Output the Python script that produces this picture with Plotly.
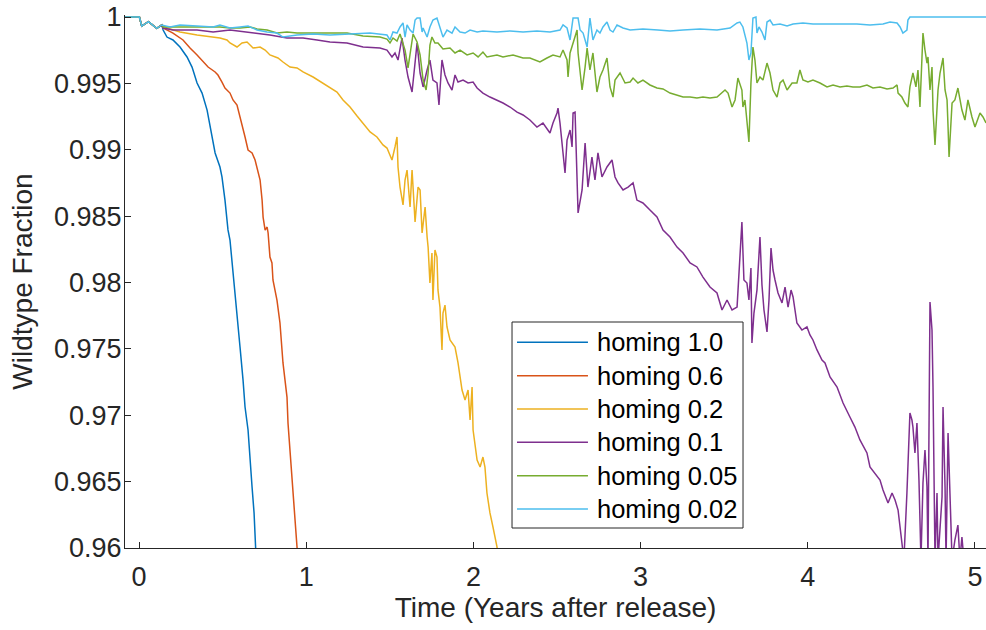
import plotly.graph_objects as go

# ---- series labels and colours -------------------------------------------
labels = ["homing 1.0", "homing 0.6", "homing 0.2", "homing 0.1", "homing 0.05", "homing 0.02"]
colors = ["#0072BD", "#D95319", "#EDB120", "#7E2F8E", "#77AC30", "#4DBEEE"]

# ---- axis ticks ------------------------------------------------------------
x_ticks = [0, 1, 2, 3, 4, 5]
x_tick_text = ["0", "1", "2", "3", "4", "5"]
y_ticks = [0.96, 0.965, 0.97, 0.975, 0.98, 0.985, 0.99, 0.995, 1.0]
y_tick_text = ["0.96", "0.965", "0.97", "0.975", "0.98", "0.985", "0.99", "0.995", "1"]

# ---- shared start of every run (all runs identical before divergence) -----
t_start = [-0.084, 0.002, 0.016, 0.056, 0.106, 0.136]
wt_start = [1.0, 1.0, 0.99932, 0.99965, 0.99915, 0.99940]

# ---- homing 1.0 -------------------------------------------------------------
t_h100 = [0.144, 0.167, 0.203, 0.245, 0.287, 0.317, 0.347, 0.377, 0.407, 0.425,
          0.455, 0.484, 0.496, 0.514, 0.532, 0.544, 0.556, 0.568, 0.586, 0.604,
          0.622, 0.634, 0.652, 0.664, 0.676, 0.688, 0.694, 0.706]
wt_h100 = [0.99902, 0.99849, 0.99827, 0.99774, 0.99699, 0.99623, 0.99503, 0.99427, 0.99299, 0.99171,
           0.98976, 0.98870, 0.98795, 0.98621, 0.98396, 0.98320, 0.98169, 0.97996, 0.97770, 0.97514,
           0.97266, 0.97062, 0.96889, 0.96640, 0.96460, 0.96264, 0.96008, 0.95759]

# ---- homing 0.6 -------------------------------------------------------------
t_h060 = [0.144, 0.203, 0.263, 0.305, 0.347, 0.377, 0.413, 0.455, 0.472, 0.496,
          0.514, 0.544, 0.562, 0.586, 0.604, 0.616, 0.634, 0.652, 0.676, 0.694,
          0.706, 0.724, 0.736, 0.742, 0.754, 0.766, 0.772, 0.783, 0.795, 0.801,
          0.825, 0.843, 0.861, 0.885, 0.891, 0.903, 0.921, 0.933, 0.945, 0.957]
wt_h060 = [0.99917, 0.99879, 0.99827, 0.99766, 0.99714, 0.99676, 0.99623, 0.99586, 0.99563, 0.99510,
           0.99465, 0.99427, 0.99375, 0.99337, 0.99247, 0.99202, 0.99096, 0.98998, 0.98976, 0.98923,
           0.98870, 0.98772, 0.98621, 0.98493, 0.98395, 0.98418, 0.98373, 0.98192, 0.98147, 0.98019,
           0.97868, 0.97695, 0.97394, 0.97137, 0.96942, 0.96716, 0.96460, 0.96211, 0.96008, 0.95797]

# ---- homing 0.2 -------------------------------------------------------------
t_h020 = [0.167, 0.245, 0.347, 0.425, 0.484, 0.526, 0.544, 0.586, 0.616, 0.646,
          0.682, 0.724, 0.754, 0.783, 0.831, 0.861, 0.903, 0.945, 0.981, 1.041,
          1.100, 1.142, 1.184, 1.220, 1.262, 1.304, 1.340, 1.382, 1.423, 1.459,
          1.483, 1.501, 1.513, 1.531, 1.543, 1.549, 1.561, 1.579, 1.591, 1.603,
          1.621, 1.633, 1.651, 1.669, 1.681, 1.693, 1.711, 1.723, 1.729, 1.740,
          1.752, 1.758, 1.770, 1.782, 1.788, 1.800, 1.812, 1.818, 1.830, 1.842,
          1.860, 1.890, 1.908, 1.932, 1.950, 1.968, 1.980, 1.992, 1.998, 2.022,
          2.040, 2.057, 2.069, 2.081, 2.099, 2.117, 2.141, 2.159]
wt_h020 = [0.99917, 0.99887, 0.99864, 0.99849, 0.99842, 0.99827, 0.99804, 0.99774, 0.99804, 0.99812,
           0.99766, 0.99774, 0.99751, 0.99714, 0.99691, 0.99661, 0.99623, 0.99616, 0.99586, 0.99548,
           0.99503, 0.99465, 0.99435, 0.99375, 0.99322, 0.99254, 0.99202, 0.99134, 0.99096, 0.99036,
           0.99013, 0.98960, 0.98923, 0.99021, 0.99096, 0.98870, 0.98719, 0.98584, 0.98772, 0.98847,
           0.98569, 0.98847, 0.98456, 0.98719, 0.98697, 0.98373, 0.98569, 0.98343, 0.98267, 0.97996,
           0.98222, 0.97868, 0.98245, 0.98192, 0.97944, 0.97815, 0.97492, 0.97770, 0.97830, 0.97665,
           0.97567, 0.97514, 0.97394, 0.97190, 0.97115, 0.97190, 0.96964, 0.97213, 0.96889, 0.96663,
           0.96610, 0.96685, 0.96610, 0.96414, 0.96264, 0.96158, 0.96008, 0.95834]

# ---- homing 0.1 -------------------------------------------------------------
t_h010 = [0.144, 0.203, 0.347, 0.443, 0.544, 0.646, 0.706, 0.783, 0.885, 0.981,
          1.065, 1.142, 1.244, 1.340, 1.441, 1.483, 1.513, 1.531, 1.549, 1.573,
          1.591, 1.609, 1.633, 1.651, 1.663, 1.681, 1.699, 1.723, 1.740, 1.758,
          1.782, 1.794, 1.812, 1.830, 1.848, 1.872, 1.890, 1.908, 1.938, 1.968,
          1.998, 2.022, 2.057, 2.099, 2.141, 2.177, 2.219, 2.261, 2.297, 2.338,
          2.380, 2.416, 2.458, 2.476, 2.500, 2.506, 2.518, 2.536, 2.548, 2.560,
          2.578, 2.590, 2.596, 2.608, 2.620, 2.626, 2.650, 2.668, 2.685, 2.709,
          2.727, 2.745, 2.769, 2.799, 2.829, 2.847, 2.865, 2.895, 2.925, 2.955,
          2.978, 3.014, 3.056, 3.098, 3.134, 3.176, 3.218, 3.254, 3.296, 3.337,
          3.373, 3.415, 3.457, 3.487, 3.517, 3.547, 3.577, 3.594, 3.606, 3.618,
          3.636, 3.648, 3.660, 3.666, 3.678, 3.696, 3.714, 3.726, 3.738, 3.756,
          3.768, 3.780, 3.792, 3.804, 3.822, 3.846, 3.864, 3.882, 3.900, 3.912,
          3.935, 3.965, 3.995, 4.013, 4.031, 4.055, 4.085, 4.103, 4.133, 4.175,
          4.211, 4.252, 4.282, 4.312, 4.354, 4.372, 4.414, 4.432, 4.450, 4.480,
          4.504, 4.522, 4.540, 4.563, 4.575, 4.593, 4.605, 4.611, 4.623, 4.629,
          4.641, 4.653, 4.665, 4.677, 4.689, 4.701, 4.713, 4.719, 4.731, 4.743,
          4.749, 4.761, 4.773, 4.779, 4.803, 4.809, 4.821, 4.827, 4.839, 4.851,
          4.863, 4.880, 4.898, 4.910, 4.922, 4.934, 4.970, 5.066]
wt_h010 = [0.99917, 0.99902, 0.99902, 0.99887, 0.99902, 0.99887, 0.99879, 0.99864, 0.99842, 0.99842,
           0.99827, 0.99812, 0.99804, 0.99774, 0.99766, 0.99751, 0.99699, 0.99729, 0.99676, 0.99842,
           0.99676, 0.99548, 0.99435, 0.99661, 0.99804, 0.99578, 0.99473, 0.99601, 0.99676, 0.99525,
           0.99503, 0.99337, 0.99676, 0.99563, 0.99503, 0.99450, 0.99563, 0.99510, 0.99525, 0.99503,
           0.99510, 0.99465, 0.99427, 0.99397, 0.99375, 0.99352, 0.99322, 0.99284, 0.99262, 0.99224,
           0.99171, 0.99201, 0.99126, 0.99201, 0.99277, 0.99314, 0.99201, 0.98976, 0.98825, 0.99073,
           0.99149, 0.99021, 0.99277, 0.99284, 0.98621, 0.98524, 0.98697, 0.99051, 0.98719, 0.98945,
           0.98772, 0.98976, 0.98795, 0.98870, 0.98923, 0.98795, 0.98750, 0.98697, 0.98719, 0.98750,
           0.98621, 0.98599, 0.98546, 0.98493, 0.98395, 0.98343, 0.98267, 0.98222, 0.98147, 0.98117,
           0.98041, 0.97966, 0.97921, 0.97793, 0.97868, 0.97793, 0.97815, 0.98169, 0.98456, 0.98019,
           0.97996, 0.97868, 0.98109, 0.97544, 0.97770, 0.97943, 0.98343, 0.97981, 0.97793, 0.97627,
           0.97868, 0.98260, 0.98094, 0.98019, 0.97921, 0.97846, 0.97966, 0.97815, 0.97943, 0.97891,
           0.97695, 0.97642, 0.97665, 0.97605, 0.97567, 0.97492, 0.97416, 0.97394, 0.97288, 0.97213,
           0.97092, 0.96987, 0.96911, 0.96814, 0.96716, 0.96610, 0.96535, 0.96512, 0.96437, 0.96339,
           0.96414, 0.96362, 0.96286, 0.96038, 0.95910, 0.96414, 0.96889, 0.97017, 0.96964, 0.96911,
           0.96716, 0.96942, 0.96512, 0.95910, 0.96490, 0.96738, 0.96459, 0.95910, 0.97853, 0.97642,
           0.97213, 0.95910, 0.96414, 0.95910, 0.96384, 0.97062, 0.96460, 0.95910, 0.96866, 0.96460,
           0.95910, 0.96060, 0.96173, 0.95910, 0.96083, 0.95910, 0.95797, 0.95684]

# ---- homing 0.05 ------------------------------------------------------------
t_h005 = [0.144, 0.347, 0.484, 0.544, 0.604, 0.664, 0.706, 0.766, 0.825, 0.885,
          0.945, 1.041, 1.142, 1.244, 1.340, 1.441, 1.483, 1.501, 1.519, 1.543,
          1.561, 1.579, 1.591, 1.609, 1.621, 1.639, 1.663, 1.681, 1.699, 1.717,
          1.729, 1.740, 1.752, 1.770, 1.788, 1.818, 1.860, 1.890, 1.920, 1.962,
          1.998, 2.028, 2.057, 2.081, 2.141, 2.177, 2.237, 2.297, 2.338, 2.398,
          2.440, 2.476, 2.518, 2.536, 2.560, 2.566, 2.578, 2.596, 2.620, 2.626,
          2.650, 2.668, 2.680, 2.697, 2.715, 2.739, 2.757, 2.775, 2.799, 2.817,
          2.835, 2.847, 2.877, 2.907, 2.937, 2.955, 2.984, 3.014, 3.056, 3.098,
          3.134, 3.176, 3.218, 3.254, 3.296, 3.337, 3.373, 3.415, 3.457, 3.487,
          3.505, 3.523, 3.547, 3.565, 3.582, 3.606, 3.612, 3.624, 3.636, 3.648,
          3.660, 3.672, 3.684, 3.696, 3.714, 3.732, 3.756, 3.774, 3.792, 3.816,
          3.834, 3.852, 3.876, 3.906, 3.935, 3.953, 3.971, 4.001, 4.031, 4.073,
          4.115, 4.151, 4.193, 4.234, 4.270, 4.312, 4.354, 4.390, 4.432, 4.474,
          4.510, 4.534, 4.540, 4.563, 4.581, 4.599, 4.611, 4.629, 4.647, 4.659,
          4.671, 4.683, 4.689, 4.701, 4.713, 4.719, 4.731, 4.743, 4.749, 4.761,
          4.773, 4.779, 4.791, 4.809, 4.821, 4.833, 4.839, 4.845, 4.863, 4.880,
          4.898, 4.922, 4.940, 4.958, 4.982, 5.000, 5.030, 5.048, 5.066]
wt_h005 = [0.99925, 0.99925, 0.99925, 0.99917, 0.99917, 0.99925, 0.99910, 0.99902, 0.99879, 0.99887,
           0.99879, 0.99879, 0.99879, 0.99879, 0.99857, 0.99849, 0.99834, 0.99804, 0.99842, 0.99819,
           0.99872, 0.99804, 0.99751, 0.99616, 0.99714, 0.99872, 0.99812, 0.99714, 0.99525, 0.99450,
           0.99578, 0.99789, 0.99849, 0.99804, 0.99804, 0.99759, 0.99766, 0.99729, 0.99751, 0.99714,
           0.99729, 0.99699, 0.99736, 0.99699, 0.99714, 0.99699, 0.99714, 0.99691, 0.99691, 0.99661,
           0.99691, 0.99714, 0.99699, 0.99751, 0.99676, 0.99548, 0.99729, 0.99804, 0.99902, 0.99729,
           0.99450, 0.99623, 0.99766, 0.99601, 0.99729, 0.99435, 0.99548, 0.99601, 0.99691, 0.99473,
           0.99397, 0.99525, 0.99578, 0.99503, 0.99510, 0.99540, 0.99503, 0.99525, 0.99488, 0.99465,
           0.99458, 0.99427, 0.99412, 0.99397, 0.99397, 0.99390, 0.99397, 0.99390, 0.99397, 0.99427,
           0.99450, 0.99427, 0.99322, 0.99375, 0.99540, 0.99450, 0.99322, 0.99375, 0.99202, 0.99058,
           0.99503, 0.99774, 0.99676, 0.99503, 0.99548, 0.99525, 0.99653, 0.99578, 0.99450, 0.99397,
           0.99503, 0.99525, 0.99450, 0.99503, 0.99503, 0.99601, 0.99525, 0.99510, 0.99525, 0.99503,
           0.99473, 0.99488, 0.99473, 0.99480, 0.99473, 0.99473, 0.99488, 0.99465, 0.99473, 0.99458,
           0.99465, 0.99488, 0.99427, 0.99397, 0.99352, 0.99322, 0.99473, 0.99578, 0.99473, 0.99601,
           0.99322, 0.99676, 0.99879, 0.99751, 0.99653, 0.99699, 0.99450, 0.99623, 0.99299, 0.99036,
           0.99322, 0.99450, 0.99578, 0.99691, 0.99450, 0.99375, 0.99171, 0.98945, 0.99352, 0.99375,
           0.99465, 0.99299, 0.99224, 0.99375, 0.99247, 0.99171, 0.99277, 0.99247, 0.99202]

# ---- homing 0.02 ------------------------------------------------------------
t_h002 = [0.185, 0.245, 0.347, 0.443, 0.484, 0.544, 0.604, 0.652, 0.706, 0.766,
          0.825, 0.861, 0.945, 1.041, 1.142, 1.262, 1.382, 1.483, 1.501, 1.519,
          1.543, 1.561, 1.579, 1.591, 1.603, 1.621, 1.639, 1.651, 1.663, 1.681,
          1.693, 1.699, 1.723, 1.740, 1.758, 1.782, 1.800, 1.818, 1.842, 1.872,
          1.890, 1.920, 1.950, 1.980, 2.022, 2.057, 2.141, 2.219, 2.297, 2.380,
          2.458, 2.518, 2.536, 2.560, 2.578, 2.596, 2.626, 2.638, 2.656, 2.680,
          2.697, 2.715, 2.739, 2.757, 2.775, 2.799, 2.817, 2.835, 2.859, 2.895,
          2.937, 3.014, 3.104, 3.176, 3.254, 3.355, 3.457, 3.535, 3.577, 3.594,
          3.612, 3.636, 3.648, 3.660, 3.672, 3.690, 3.696, 3.708, 3.726, 3.744,
          3.756, 3.774, 3.792, 3.834, 3.876, 3.912, 3.971, 4.031, 4.115, 4.211,
          4.294, 4.372, 4.450, 4.492, 4.534, 4.552, 4.569, 4.593, 4.599, 4.611,
          5.066]
wt_h002 = [0.99925, 0.99940, 0.99932, 0.99925, 0.99940, 0.99917, 0.99925, 0.99932, 0.99902, 0.99887,
           0.99879, 0.99849, 0.99864, 0.99872, 0.99864, 0.99872, 0.99879, 0.99864, 0.99827, 0.99887,
           0.99879, 0.99925, 0.99955, 0.99849, 0.99940, 0.99902, 0.99879, 0.99977, 0.99992, 0.99992,
           0.99887, 0.99917, 0.99849, 0.99925, 0.99977, 0.99992, 0.99925, 0.99849, 0.99902, 0.99879,
           0.99925, 0.99887, 0.99879, 0.99902, 0.99887, 0.99895, 0.99887, 0.99895, 0.99887, 0.99895,
           0.99887, 0.99902, 0.99940, 0.99917, 0.99827, 0.99992, 0.99992, 0.99902, 0.99879, 0.99774,
           0.99992, 0.99827, 0.99902, 0.99879, 0.99925, 0.99962, 0.99902, 0.99887, 0.99940, 0.99917,
           0.99902, 0.99910, 0.99902, 0.99895, 0.99902, 0.99910, 0.99902, 0.99917, 0.99955, 0.99962,
           0.99925, 0.99804, 0.99676, 0.99729, 0.99992, 1.0, 0.99879, 0.99925, 0.99887, 0.99827,
           0.99962, 0.99977, 0.99940, 0.99947, 0.99932, 0.99947, 0.99955, 0.99947, 0.99947, 0.99947,
           0.99947, 0.99940, 0.99947, 0.99962, 0.99955, 0.99925, 0.99879, 0.99902, 0.99977, 1.0,
           1.0]

runs_t = [t_h100, t_h060, t_h020, t_h010, t_h005, t_h002]
runs_wt = [wt_h100, wt_h060, wt_h020, wt_h010, wt_h005, wt_h002]

TEXT = "#262626"
FONT = "Liberation Sans, Arial, Helvetica, sans-serif"

fig = go.Figure()
for name, col, tt, ww in zip(labels, colors, runs_t, runs_wt):
    fig.add_trace(go.Scatter(
        x=t_start + tt, y=wt_start + ww, mode="lines", name=name,
        line=dict(color=col, width=1.5), showlegend=False,
    ))

# legend box drawn in paper coordinates
box_x0, box_x1, box_y0, box_y1 = 0.4495, 0.7178, 0.0375, 0.4240
line_x0, line_x1, text_x = 0.4553, 0.5377, 0.5455
row_y = [0.3859, 0.3233, 0.2608, 0.1983, 0.1356, 0.0732]
shapes = [dict(type="rect", xref="paper", yref="paper", x0=box_x0, x1=box_x1,
               y0=box_y0, y1=box_y1, line=dict(color=TEXT, width=1), fillcolor="white",
               layer="above")]
annotations = []
for name, col, ry in zip(labels, colors, row_y):
    shapes.append(dict(type="line", xref="paper", yref="paper", x0=line_x0, x1=line_x1,
                       y0=ry, y1=ry, line=dict(color=col, width=1.5), layer="above"))
    annotations.append(dict(xref="paper", yref="paper", x=text_x, y=ry, text=name,
                            showarrow=False, xanchor="left", yanchor="middle",
                            font=dict(family=FONT, size=25.5, color="#000000")))

fig.update_layout(
    width=986, height=630,
    margin=dict(l=125, r=0, t=15, b=82),
    paper_bgcolor="white", plot_bgcolor="white",
    font=dict(family=FONT, color=TEXT),
    shapes=shapes, annotations=annotations,
    showlegend=False,
)
fig.update_xaxes(
    range=[-0.084, 5.066], tickvals=x_ticks, ticktext=x_tick_text,
    ticks="inside", ticklen=6, tickwidth=1, tickcolor=TEXT,
    showline=True, linecolor=TEXT, linewidth=1, showgrid=False, zeroline=False,
    tickfont=dict(size=27, color=TEXT), ticklabelstandoff=5,
    title=dict(text="Time (Years after release)", font=dict(size=28, color=TEXT), standoff=5),
)
fig.update_yaxes(
    range=[0.96, 1.000151], tickvals=y_ticks, ticktext=y_tick_text,
    ticks="inside", ticklen=6, tickwidth=1, tickcolor=TEXT,
    showline=True, linecolor=TEXT, linewidth=1, showgrid=False, zeroline=False,
    tickfont=dict(size=27, color=TEXT), ticklabelstandoff=-3,
    title=dict(text="Wildtype Fraction", font=dict(size=28, color=TEXT), standoff=13),
)

fig.write_html("out.html")
